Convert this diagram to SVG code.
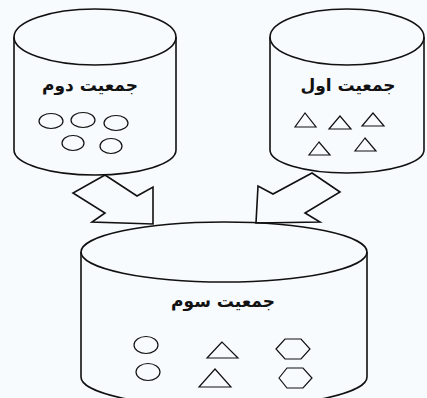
<svg xmlns="http://www.w3.org/2000/svg" width="427" height="398" viewBox="0 0 427 398">
<style>
.ln{fill:none;stroke:#111;stroke-width:1.6}
.sh{fill:none;stroke:#111;stroke-width:1.2}
.ar{fill:#f8fbfd;stroke:#111;stroke-width:1.6;stroke-linejoin:miter}
.t{font-family:"DejaVu Sans",sans-serif;font-weight:bold;font-size:17px;fill:#111;text-anchor:middle}
</style>
<rect width="427" height="398" fill="#f8fbfd"/>
<g id="connectors">
<polygon class="ar" points="105,175 73,193 105,213 92,222 153,224 153,187 137,196"/>
<polygon class="ar" points="312,173 340,192 305,213 320,222 256,223 258,186 273,194"/>
</g>
<g id="pop2">
<ellipse class="ln" cx="95" cy="37" rx="81" ry="28"/>
<path class="ln" d="M14,37 L14,150 A81,25 0 0 0 176,150 L176,37"/>
<text class="t" x="90" y="91" direction="rtl">جمعیت دوم</text>
<ellipse class="sh" cx="51" cy="121" rx="12" ry="7.5"/>
<ellipse class="sh" cx="83" cy="120" rx="12" ry="7.5"/>
<ellipse class="sh" cx="116" cy="123" rx="12" ry="7.5"/>
<ellipse class="sh" cx="73" cy="143" rx="11" ry="7.5"/>
<ellipse class="sh" cx="111" cy="146" rx="11" ry="7.5"/>
</g>
<g id="pop1">
<ellipse class="ln" cx="347" cy="37" rx="77" ry="28"/>
<path class="ln" d="M270,37 L270,150 A77,23 0 0 0 424,150 L424,37"/>
<text class="t" x="348" y="91" direction="rtl">جمعیت اول</text>
<polygon class="sh" points="305,113 295,127 316,127"/>
<polygon class="sh" points="340,116 329,129 351,129"/>
<polygon class="sh" points="373,113 362,126 384,126"/>
<polygon class="sh" points="319,142 309,155 330,155"/>
<polygon class="sh" points="365,138 355,151 376,151"/>
</g>
<g id="pop3">
<ellipse class="ln" cx="224" cy="252" rx="143" ry="30"/>
<path class="ln" d="M81,252 L81,377 A143,30 0 0 0 367,377 L367,252"/>
<text class="t" x="223" y="307" direction="rtl">جمعیت سوم</text>
<ellipse class="sh" cx="146" cy="345" rx="12" ry="8.5"/>
<ellipse class="sh" cx="148" cy="372" rx="12" ry="8.5"/>
<polygon class="sh" points="222,342 207,358 238,358"/>
<polygon class="sh" points="215,369 199,387 231,387"/>
<polygon class="sh" points="276,349 285,339 301,339 310,349 301,359 285,359"/>
<polygon class="sh" points="279,378 287,368 303,368 312,378 303,388 287,388"/>
</g>
</svg>
